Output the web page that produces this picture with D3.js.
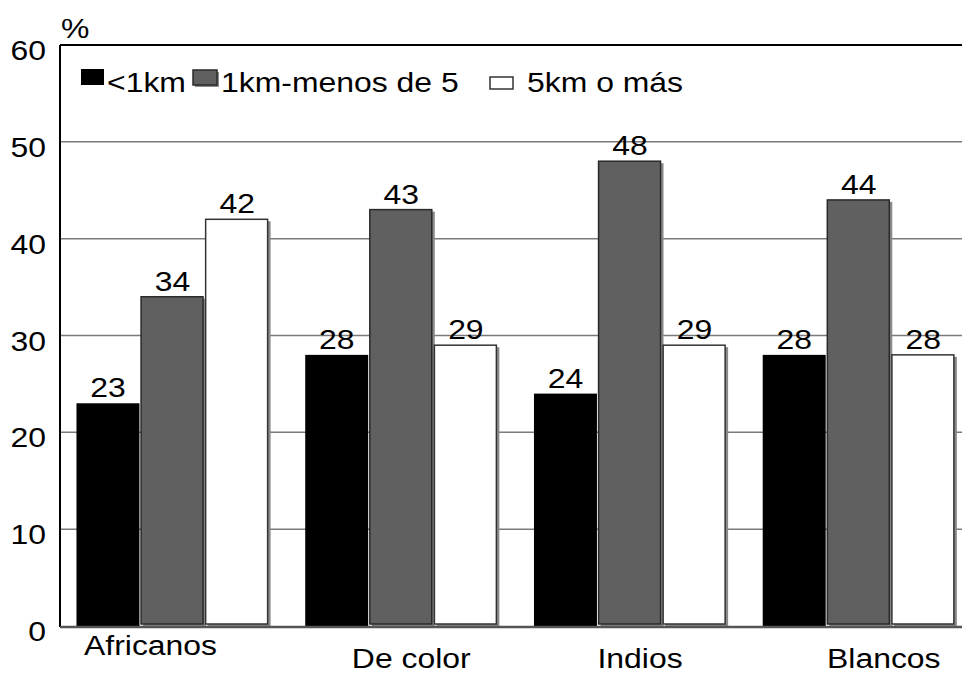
<!DOCTYPE html>
<head>
    <meta charset="utf-8">
    <title>Distancia</title>
    <script src="https://d3js.org/d3.v7.min.js"></script>
    <style>
        body { margin: 0; background: #fff; }
        text { font-family: "Liberation Sans", Arial, sans-serif; fill: #000; }
    </style>
</head>
<body>
<div id="container"></div>

<script>
    //---------------------------DATA-------------------------------//
    const categories = ["Africanos", "De color", "Indios", "Blancos"];
    const seriesNames = ["<1km", "1km-menos de 5", "5km o más"];
    const menos1km = [23, 28, 24, 28];
    const de1a5km = [34, 43, 48, 44];
    const mas5km = [42, 29, 29, 28];
    const yTicks = [0, 10, 20, 30, 40, 50, 60];

    //---------------------------SVG--------------------------------//
    const width = 962;
    const height = 675;
    const plotLeft = 60, plotTop = 45, plotBottom = 626, plotRight = 975;
    const fontSize = 28;
    const wide = 1.14; // the original type is drawn a bit wide

    const svg = d3.select("#container").append("svg")
        .attr("width", width)
        .attr("height", height);

    const series = [menos1km, de1a5km, mas5km];
    const fills = ["#000000", "#606060", "#ffffff"];
    const strokes = ["#000000", "#2a2a2a", "#333333"];
    // label nudges so the category names sit like the original
    const labelDx = [-22, 10, 10, 25];
    const labelY = [655, 668, 668, 668];

    // widen a text around its own anchor point
    function stretch(sel) {
        sel.attr("transform", function() {
            const x = +d3.select(this).attr("x") || 0;
            return "translate(" + (x * (1 - wide)) + ",0) scale(" + wide + ",1)";
        });
    }

    //--------------------------SCALES------------------------------//
    const y = d3.scaleLinear().domain([0, 60]).range([plotBottom, plotTop]);
    const x0 = d3.scaleBand().domain(categories)
        .range([plotLeft, plotRight]).paddingInner(0.16).paddingOuter(0.08).align(0.45);
    const x1 = d3.scaleBand().domain(d3.range(seriesNames.length))
        .range([0, x0.bandwidth()]).paddingInner(0.025);

    //--------------------------GRID--------------------------------//
    svg.append("g").selectAll("line")
        .data(yTicks.filter(d => d > 0 && d < 60))
        .enter().append("line")
        .attr("x1", plotLeft).attr("x2", plotRight)
        .attr("y1", d => y(d)).attr("y2", d => y(d))
        .style("stroke", "#7a7a7a").style("stroke-width", 1.5);

    //--------------------------BARS--------------------------------//
    const rows = [];
    categories.forEach((c, i) => {
        series.forEach((s, k) => rows.push({cat: c, k: k, v: s[i]}));
    });

    const bars = svg.append("g").selectAll("g")
        .data(rows).enter().append("g");

    // little shadow behind the grey and white bars
    bars.filter(d => d.k > 0).append("rect")
        .attr("x", d => x0(d.cat) + x1(d.k) + 2)
        .attr("y", d => y(d.v) + 2)
        .attr("width", x1.bandwidth())
        .attr("height", d => y(0) - y(d.v) - 1)
        .style("fill", "#8a8a8a");

    bars.append("rect")
        .attr("x", d => x0(d.cat) + x1(d.k))
        .attr("y", d => y(d.v))
        .attr("width", d => x1.bandwidth() - (d.k > 0 ? 1 : 0))
        .attr("height", d => y(0) - y(d.v) - (d.k > 0 ? 2 : 0))
        .style("fill", d => fills[d.k])
        .style("stroke", d => strokes[d.k])
        .style("stroke-width", d => d.k > 0 ? 1.5 : 0);

    bars.append("text")
        .attr("x", d => x0(d.cat) + x1(d.k) + x1.bandwidth() / 2)
        .attr("y", d => y(d.v) - 6)
        .attr("text-anchor", "middle")
        .style("font-size", fontSize + "px")
        .text(d => d.v)
        .call(stretch);

    //--------------------------AXES--------------------------------//
    svg.append("line")
        .attr("x1", plotLeft).attr("x2", plotRight).attr("y1", plotTop).attr("y2", plotTop)
        .style("stroke", "#000").style("stroke-width", 2);
    svg.append("line")
        .attr("x1", plotLeft).attr("x2", plotLeft).attr("y1", plotTop).attr("y2", plotBottom + 1)
        .style("stroke", "#000").style("stroke-width", 2);
    svg.append("line")
        .attr("x1", plotLeft).attr("x2", plotRight).attr("y1", plotBottom + 1).attr("y2", plotBottom + 1)
        .style("stroke", "#555").style("stroke-width", 2.5);

    const yAxis = d3.axisLeft(y).tickValues(yTicks).tickSize(0).tickPadding(14);
    const gy = svg.append("g")
        .attr("transform", "translate(" + plotLeft + ",0)")
        .call(yAxis);
    gy.select(".domain").remove();
    gy.selectAll("text")
        .attr("dy", "0.52em")
        .style("font-size", fontSize + "px")
        .style("font-family", "'Liberation Sans', Arial, sans-serif")
        .call(stretch);

    svg.append("text").attr("x", 61).attr("y", 38)
        .style("font-size", fontSize + "px").text("%")
        .call(stretch);

    svg.append("g").selectAll("text")
        .data(categories).enter().append("text")
        .attr("x", (d, i) => x0(d) + x0.bandwidth() / 2 + labelDx[i])
        .attr("y", (d, i) => labelY[i])
        .attr("text-anchor", "middle")
        .style("font-size", fontSize + "px")
        .text(d => d)
        .call(stretch);

    //-------------------------LEGEND-------------------------------//
    const legendBoxes = [
        {x: 81, y: 69, w: 23, h: 16, tx: 107},
        {x: 193, y: 70, w: 24, h: 15, tx: 221},
        {x: 490, y: 77, w: 23, h: 12, tx: 527}
    ];
    legendBoxes.forEach((b, k) => {
        if (k === 1) {
            svg.append("rect").attr("x", b.x + 2).attr("y", b.y + 2)
                .attr("width", b.w).attr("height", b.h).style("fill", "#8a8a8a");
        }
        svg.append("rect").attr("x", b.x).attr("y", b.y)
            .attr("width", b.w).attr("height", b.h)
            .style("fill", fills[k])
            .style("stroke", strokes[k])
            .style("stroke-width", k > 0 ? 1.5 : 0);
        svg.append("text").attr("x", b.tx).attr("y", 92)
            .style("font-size", fontSize + "px")
            .text(seriesNames[k])
            .call(stretch);
    });
</script>
</body>
